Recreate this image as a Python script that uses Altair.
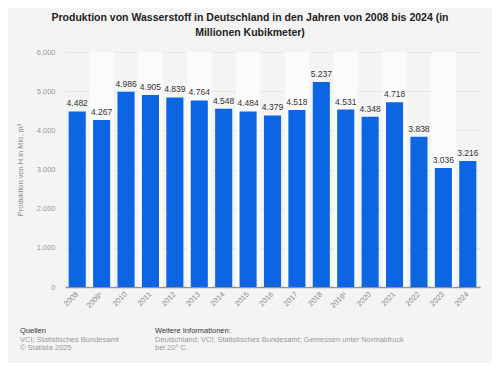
import altair as alt
import pandas as pd

years = ["2008", "2009¹", "2010", "2011", "2012", "2013", "2014", "2015", "2016",
         "2017", "2018", "2019¹", "2020", "2021", "2022", "2023", "2024"]
values = [4482, 4267, 4986, 4905, 4839, 4764, 4548, 4484, 4379,
          4518, 5237, 4531, 4348, 4718, 3838, 3036, 3216]

title_lines = ["Produktion von Wasserstoff in Deutschland in den Jahren von 2008 bis 2024 (in",
               "Millionen Kubikmeter)"]
y_title = "Produktion von H in Mio. m³"
src_head = "Quellen"
src_lines = ["VCI; Statistisches Bundesamt", "© Statista 2025"]
info_head = "Weitere Informationen:"
info_lines = ["Deutschland; VCI; Statistisches Bundesamt; Gemessen unter Normaldruck", "bei 20° C."]

df = pd.DataFrame({
    "year": years,
    "value": values,
    "label": [f"{v:,}".replace(",", ".") for v in values],
    "band": [i % 2 == 1 for i in range(len(years))],
    "top": [6000] * len(years),
})

FONT = "Liberation Sans"
PAD_INNER = 0.3
x = alt.X("year:N", sort=years, title=None,
          scale=alt.Scale(paddingInner=PAD_INNER, paddingOuter=0.15),
          axis=alt.Axis(labelAngle=-45, labelAlign="right", labelBaseline="middle",
                        labelColor="#8a8a8a", labelFontSize=7.5, labelFont=FONT,
                        labelPadding=6, ticks=False, domainColor="#9a8f87",
                        domainWidth=1.5))
y_scale = alt.Scale(domain=[0, 6000], nice=False)
y_axis = alt.Axis(values=[0, 1000, 2000, 3000, 4000, 5000, 6000],
                  labelExpr="replace(format(datum.value, ','), ',', '.')",
                  labelColor="#999999", labelFontSize=7.5, labelFont=FONT,
                  labelPadding=10, ticks=False, domain=False,
                  gridColor="#e2e2e2", gridWidth=0.8,
                  titleColor="#8a8a8a", titleFontSize=7.5, titleFont=FONT,
                  titleFontWeight="normal", titlePadding=12)

bands = alt.Chart(df).transform_filter("datum.band").mark_bar(
    color="#fbfbfb", width=alt.RelativeBandSize(1 / (1 - PAD_INNER))
).encode(x=x, y=alt.Y("top:Q", scale=y_scale, title=y_title, axis=y_axis))

bars = alt.Chart(df).mark_bar(color="#0c66e4").encode(
    x=x,
    y=alt.Y("value:Q", scale=y_scale, title=y_title, axis=y_axis),
)

labels = alt.Chart(df).mark_text(dy=-8, fontSize=8.5, font=FONT, color="#333333",
                                 fontWeight=500).encode(
    x=x, y=alt.Y("value:Q", scale=y_scale, title=y_title, axis=y_axis), text="label:N")

def txt(s, xpx, ypx, size=7.5, color="#999999", weight="normal", align="left"):
    return alt.Chart(pd.DataFrame({"t": [s]})).mark_text(
        align=align, baseline="middle", fontSize=size, color=color,
        fontWeight=weight, font=FONT
    ).encode(x=alt.value(xpx), y=alt.value(ypx), text="t:N")

ox, oy = 65, 52
ann = [
    txt(title_lines[0], 250 - ox, 18 - oy, 10.5, "#222222", "bold", "center"),
    txt(title_lines[1], 250 - ox, 33 - oy, 10.5, "#222222", "bold", "center"),
    txt(src_head, 20 - ox, 331 - oy, 7.5, "#333333"),
    txt(src_lines[0], 20 - ox, 339.5 - oy),
    txt(src_lines[1], 20 - ox, 347.5 - oy),
    txt(info_head, 155 - ox, 331 - oy, 7.5, "#333333"),
    txt(info_lines[0], 155 - ox, 339.5 - oy),
    txt(info_lines[1], 155 - ox, 347.5 - oy),
]

chart = alt.layer(bands, bars, labels, *ann).properties(
    width=415, height=235,
    autosize=alt.AutoSizeParams(type="none"),
    padding={"left": 57, "top": 44, "right": 12, "bottom": 76},
    background="#f4f4f4",
).configure_view(stroke=None, fill="#f4f4f4")

chart.save("out.html", embed_options={"renderer": "svg", "actions": False})
